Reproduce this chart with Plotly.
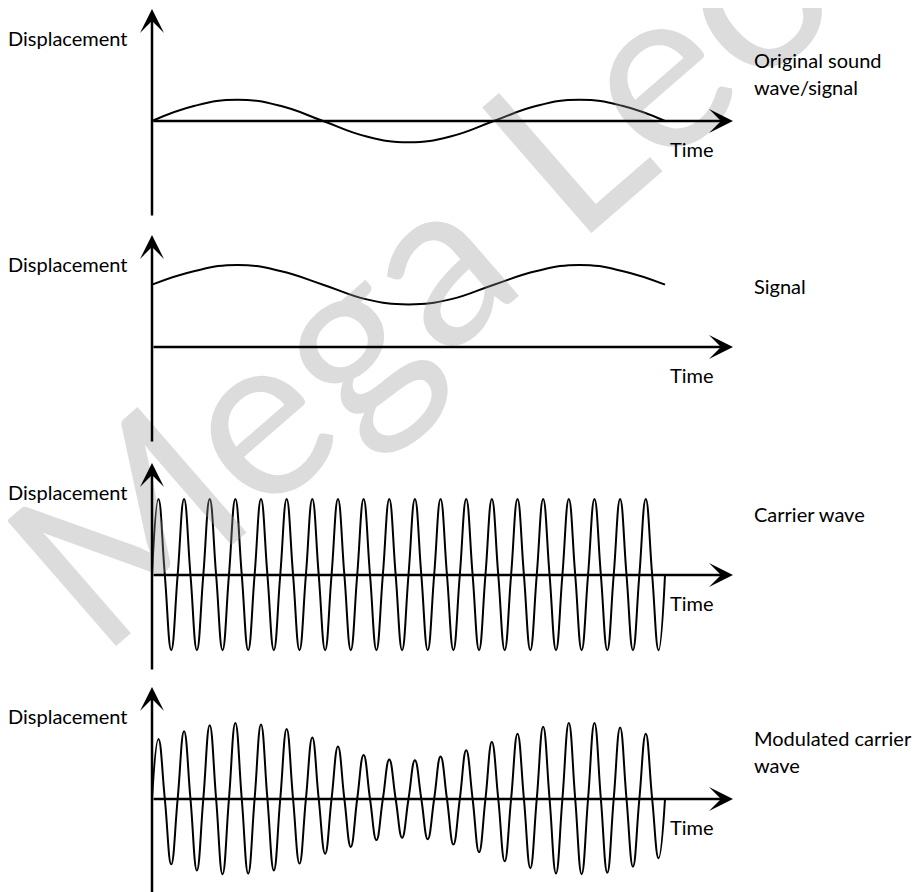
import plotly.graph_objects as go

# time is measured in carrier periods: the carrier makes 20 cycles across the plot
# displacement is measured in carrier amplitudes

# original sound wave / signal (1.5 cycles), read at every 1/8 of its period
signal_t = [0, 1.67, 3.33, 5, 6.67, 8.33, 10, 11.67, 13.33, 15, 16.67, 18.33, 20]
signal_y = [0, 0.2, 0.28, 0.2, 0, -0.2, -0.28, -0.2, 0, 0.2, 0.28, 0.2, 0]
# the same signal shifted up (panel 2)
signal_dc_y = [0.82, 1.0, 1.08, 1.0, 0.82, 0.63, 0.56, 0.63, 0.82, 1.0, 1.08, 1.0, 0.82]

# carrier wave: height of each crest and trough
carrier_peaks = [1.0, 1.0, 1.0, 1.0, 1.0, 1.0, 1.0, 1.0, 1.0, 1.0,
                 1.0, 1.0, 1.0, 1.0, 1.0, 1.0, 1.0, 1.0, 1.0, 1.0]
carrier_troughs = [-0.99, -0.99, -0.99, -0.99, -0.99, -0.99, -0.99, -0.99, -0.99, -0.99,
                   -0.99, -0.99, -0.99, -0.99, -0.99, -0.99, -0.99, -0.99, -0.99, -0.99]

# modulated carrier: crest / trough heights follow the signal
mod_peaks = [0.79, 0.89, 0.97, 1.0, 0.98, 0.92, 0.81, 0.69, 0.58, 0.52,
             0.51, 0.56, 0.64, 0.75, 0.86, 0.95, 1.0, 1.0, 0.94, 0.86]
mod_troughs = [-0.86, -0.94, -0.99, -0.98, -0.94, -0.85, -0.72, -0.63, -0.54, -0.51,
               -0.53, -0.60, -0.70, -0.82, -0.91, -0.98, -0.99, -0.97, -0.89, -0.78]

right_labels = [["Original sound", "wave/signal"], ["Signal"], ["Carrier wave"],
                ["Modulated carrier", "wave"]]

W, H = 923, 892
OFF = 8              # the page body margin shifts the figure by this much
PX = 76.0            # pixels per displacement unit
TPX = 25.65          # pixels per time unit
X0 = 152             # page pixel of the y axis
AXIS_PX = [121, 347, 575, 799]   # page pixel of each time axis
FONT = "Lato"
FS = 20


def wave_points(peaks, troughs):
    t, y = [0.0], [0.0]
    for k, (p, q) in enumerate(zip(peaks, troughs)):
        t += [k + 0.25, k + 0.5, k + 0.75, k + 1.0]
        y += [p, 0.0, q, 0.0]
    return t, y


def tx(px):
    return (px - X0) / TPX


carrier_t, carrier_y = wave_points(carrier_peaks, carrier_troughs)
mod_t, mod_y = wave_points(mod_peaks, mod_troughs)

series = [(signal_t, signal_y), (signal_t, signal_dc_y),
          (carrier_t, carrier_y), (mod_t, mod_y)]

fig = go.Figure()
annotations = []

# watermark
annotations.append(dict(
    text="Mega Leo", xref="paper", yref="paper",
    x=(416 - OFF) / W, y=1 - (266 - OFF) / H,
    xanchor="center", yanchor="middle", showarrow=False, textangle=-41,
    font=dict(family=FONT, size=232, color="rgba(150,150,150,0.33)")))

for i, (t, y) in enumerate(series):
    yname = "y" if i == 0 else "y%d" % (i + 1)
    fig.add_trace(go.Scatter(
        x=t, y=y, mode="lines", xaxis="x", yaxis=yname,
        line=dict(color="black", width=2, shape="spline", smoothing=1.3),
        hoverinfo="skip", showlegend=False))

    a = AXIS_PX[i] - OFF
    top, bot = a - 113, a + 97
    key = "yaxis" if i == 0 else "yaxis%d" % (i + 1)
    fig.layout[key] = dict(domain=[1 - bot / H, 1 - top / H],
                           range=[-97 / PX, 113 / PX],
                           anchor="x", visible=False, fixedrange=True)

    arrow = dict(xref="x", yref=yname, axref="x", ayref=yname, text="", showarrow=True,
                 arrowhead=3, arrowsize=1.6, arrowwidth=2.5, arrowcolor="black",
                 standoff=0, startstandoff=0)
    # time axis arrow
    annotations.append(dict(arrow, x=tx(733), y=0, ax=0, ay=0))
    # displacement axis arrow
    annotations.append(dict(arrow, x=0, y=112 / PX, ax=0, ay=-96 / PX))

    label = dict(yref=yname, showarrow=False, xanchor="left", yanchor="middle",
                 font=dict(family=FONT, size=FS, color="black"))
    annotations.append(dict(label, xref="paper", x=-2 / W, y=83 / PX, text="Displacement"))
    annotations.append(dict(label, xref="x", x=tx(668), y=-28 / PX, text="Time"))
    for j, line in enumerate(right_labels[i]):
        annotations.append(dict(label, xref="x", x=tx(752), y=(61 - 27 * j) / PX, text=line))

fig.update_layout(
    width=W, height=H,
    margin=dict(l=0, r=0, t=0, b=0),
    paper_bgcolor="white", plot_bgcolor="white",
    xaxis=dict(domain=[0, 1], range=[-(X0 - OFF) / TPX, (W - X0 + OFF) / TPX],
               visible=False, fixedrange=True),
    annotations=annotations,
)

fig.write_html("out.html")
